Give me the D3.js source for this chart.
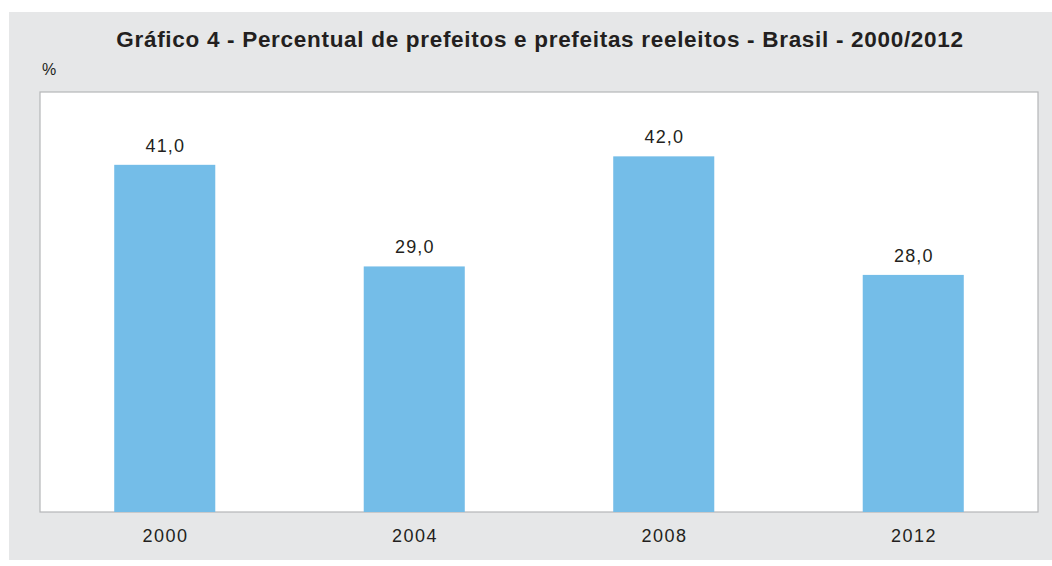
<!DOCTYPE html>
<html>
<head>
<meta charset="utf-8">
<script src="https://cdn.jsdelivr.net/npm/d3@7"></script>
<style>
body { margin: 0; background: #fff; }
#vis { width: 1052px; height: 566px; }
text { font-family: "Liberation Sans", Arial, sans-serif; fill: #231f20; }
</style>
</head>
<body>
<div id="vis"></div>
<script>
var years = ['2000', '2004', '2008', '2012'];
var values = [41.0, 29.0, 42.0, 28.0];
var y_domain = [0, 49.6];

var width = 1052;
var height = 566;
var margin = {top: 92, bottom: 54, left: 40, right: 14};

var svg = d3.select('#vis').append('svg').attr('width', width).attr('height', height);

// gray panel
svg.append('rect').attr('x', 9).attr('y', 12).attr('width', width - 9).attr('height', 548).attr('fill', '#e6e7e8');

svg.append('text').attr('x', 540).attr('y', 47).attr('text-anchor', 'middle')
	.style('font-size', '22.5px').style('font-weight', 'bold').style('letter-spacing', '0.7px')
	.text('Gráfico 4 - Percentual de prefeitos e prefeitas reeleitos - Brasil - 2000/2012');
svg.append('text').attr('x', 42).attr('y', 75).style('font-size', '16px').text('%');

var w = width - margin.left - margin.right;
var h = height - margin.top - margin.bottom;
var g = svg.append('g').attr('transform', 'translate(' + margin.left + ',' + margin.top + ')');

g.append('rect').attr('width', w).attr('height', h).attr('fill', '#fff')
	.attr('stroke', '#b5b6b8').attr('stroke-width', 1.2);

var x_scale = d3.scaleBand().domain(years).range([0, w]).paddingInner(0.595).paddingOuter(0.2975);
var y_scale = d3.scaleLinear().domain(y_domain).range([h, 0]);

var data = years.map(function(d, i) { return {year: d, value: values[i]}; });

g.selectAll('.bar').data(data).enter().append('rect').attr('class', 'bar')
	.attr('x', function(d) { return x_scale(d.year); })
	.attr('width', x_scale.bandwidth())
	.attr('y', function(d) { return y_scale(d.value); })
	.attr('height', function(d) { return h - y_scale(d.value); })
	.attr('fill', '#74bde8');

g.selectAll('.lbl').data(data).enter().append('text').attr('class', 'lbl')
	.attr('x', function(d) { return x_scale(d.year) + x_scale.bandwidth() / 2 + 0.6; })
	.attr('y', function(d) { return y_scale(d.value) - 13; })
	.attr('text-anchor', 'middle').style('font-size', '18px').style('letter-spacing', '1.2px')
	.text(function(d) { return d3.format('.1f')(d.value).replace('.', ','); });

var x_axis = d3.axisBottom(x_scale).tickSize(0).tickPadding(17);
var ax = g.append('g').attr('transform', 'translate(0,' + h + ')').call(x_axis);
ax.select('.domain').remove();
ax.selectAll('text').style('font-size', '18px').style('letter-spacing', '1.5px').attr('dx', '0.75')
	.style('font-family', '"Liberation Sans", Arial, sans-serif').attr('fill', '#231f20');
</script>
</body>
</html>
